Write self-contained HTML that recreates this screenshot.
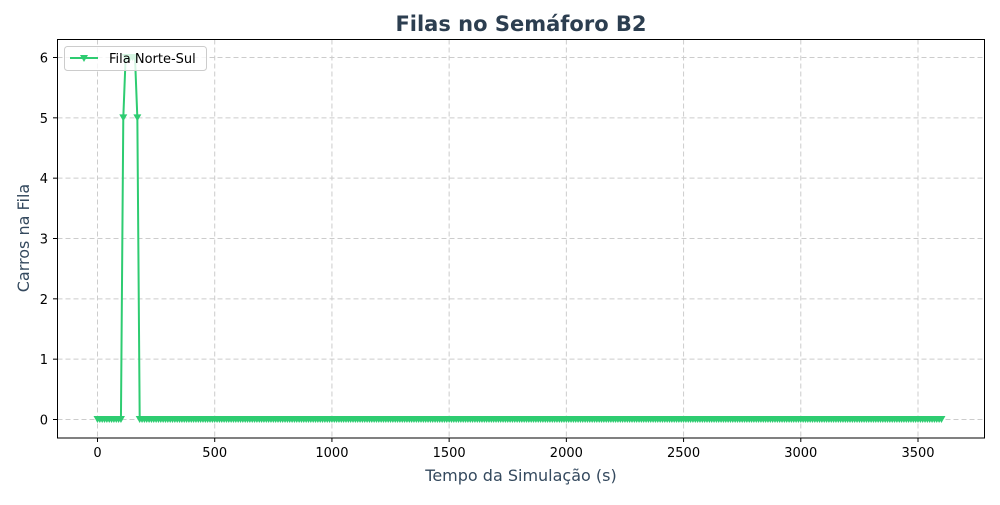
<!DOCTYPE html>
<html><head><meta charset="utf-8"><style>
body{margin:0;background:#fff;}
svg{font-family:"DejaVu Sans","Liberation Sans",sans-serif;}
</style></head><body>
<svg id="chart" width="1000" height="500">
<rect width="1000" height="500" fill="#fff"/>
<text x="521" y="31" text-anchor="middle" font-size="21" font-weight="bold" fill="#2c3e50">Filas no Semáforo B2</text>
<g id="grid"></g>
<g id="series"></g>
<rect x="57.5" y="39.5" width="927" height="398.5" fill="none" stroke="#000" stroke-width="1"/>
<g id="ticks"></g>
<text x="521" y="481" text-anchor="middle" font-size="16" fill="#34495e">Tempo da Simulação (s)</text>
<text transform="translate(29,238) rotate(-90)" text-anchor="middle" font-size="16" fill="#34495e">Carros na Fila</text>
<g>
<rect x="64.5" y="46.5" width="142" height="24" rx="3" fill="#fff" fill-opacity="0.8" stroke="#ccc"/>
<line x1="70" y1="58" x2="98" y2="58" stroke="#2ecc71" stroke-width="2"/>
<path d="M80,55 L88,55 L84,62 Z" fill="#2ecc71"/>
<text x="109" y="63" font-size="13" fill="#000">Fila Norte-Sul</text>
</g>
</svg>
<script>
const xTicks=[0,500,1000,1500,2000,2500,3000,3500];
const yTicks=[0,1,2,3,4,5,6];
const timeStart=0, timeStep=10;
const queueValues=[0,0,0,0,0,0,0,0,0,0,0,5,6,6,6,6,6,5,
0,0,0,0,0,0,0,0,0,0,0,0,0,0,0,0,0,0,0,0,
0,0,0,0,0,0,0,0,0,0,0,0,0,0,0,0,0,0,0,0,
0,0,0,0,0,0,0,0,0,0,0,0,0,0,0,0,0,0,0,0,
0,0,0,0,0,0,0,0,0,0,0,0,0,0,0,0,0,0,0,0,
0,0,0,0,0,0,0,0,0,0,0,0,0,0,0,0,0,0,0,0,
0,0,0,0,0,0,0,0,0,0,0,0,0,0,0,0,0,0,0,0,
0,0,0,0,0,0,0,0,0,0,0,0,0,0,0,0,0,0,0,0,
0,0,0,0,0,0,0,0,0,0,0,0,0,0,0,0,0,0,0,0,
0,0,0,0,0,0,0,0,0,0,0,0,0,0,0,0,0,0,0,0,
0,0,0,0,0,0,0,0,0,0,0,0,0,0,0,0,0,0,0,0,
0,0,0,0,0,0,0,0,0,0,0,0,0,0,0,0,0,0,0,0,
0,0,0,0,0,0,0,0,0,0,0,0,0,0,0,0,0,0,0,0,
0,0,0,0,0,0,0,0,0,0,0,0,0,0,0,0,0,0,0,0,
0,0,0,0,0,0,0,0,0,0,0,0,0,0,0,0,0,0,0,0,
0,0,0,0,0,0,0,0,0,0,0,0,0,0,0,0,0,0,0,0,
0,0,0,0,0,0,0,0,0,0,0,0,0,0,0,0,0,0,0,0,
0,0,0,0,0,0,0,0,0,0,0,0,0,0,0,0,0,0,0,0,
0,0,0];
const NS="http://www.w3.org/2000/svg";
function X(v){return 97.5+v*(918-97.5)/3500;}
function Y(v){return 419.5-v*(419.5-57.5)/6;}
function mk(tag,attrs,parent){const e=document.createElementNS(NS,tag);for(const k in attrs)e.setAttribute(k,attrs[k]);parent.appendChild(e);return e;}
const grid=document.getElementById('grid'),ticks=document.getElementById('ticks'),series=document.getElementById('series');
xTicks.forEach(t=>{
  const gl=mk('line',{x1:X(t),x2:X(t),y1:39.5,y2:438,stroke:'#ccc','stroke-dasharray':'5,3'},grid);
  
  
  mk('line',{x1:X(t),x2:X(t),y1:438,y2:442,stroke:'#000'},ticks);
  const tx=mk('text',{x:X(t),y:457,'text-anchor':'middle','font-size':13,fill:'#000'},ticks);
  tx.textContent=t;
  
  
});
yTicks.forEach(t=>{
  const gl=mk('line',{x1:57.5,x2:984.5,y1:Y(t),y2:Y(t),stroke:'#ccc','stroke-dasharray':'5,3'},grid);
  
  
  mk('line',{x1:53,x2:57.5,y1:Y(t),y2:Y(t),stroke:'#000'},ticks);
  const tx=mk('text',{x:48,y:Y(t)+5,'text-anchor':'end','font-size':13,fill:'#000'},ticks);
  tx.textContent=t;
  
  
});
let d='';
queueValues.forEach((v,i)=>{const t=timeStart+i*timeStep;d+=(i?'L':'M')+X(t).toFixed(2)+','+Y(v).toFixed(2);});
const line=mk('path',{d:d,fill:'none',stroke:'#2ecc71','stroke-width':2},series);


queueValues.forEach((v,i)=>{
  const t=timeStart+i*timeStep,x=X(t),y=Y(v);
  const m=mk('path',{d:`M${x-4},${y-3.5} L${x+4},${y-3.5} L${x},${y+3.5} Z`,fill:'#2ecc71'},series);
  
  
});
</script>
</body></html>
